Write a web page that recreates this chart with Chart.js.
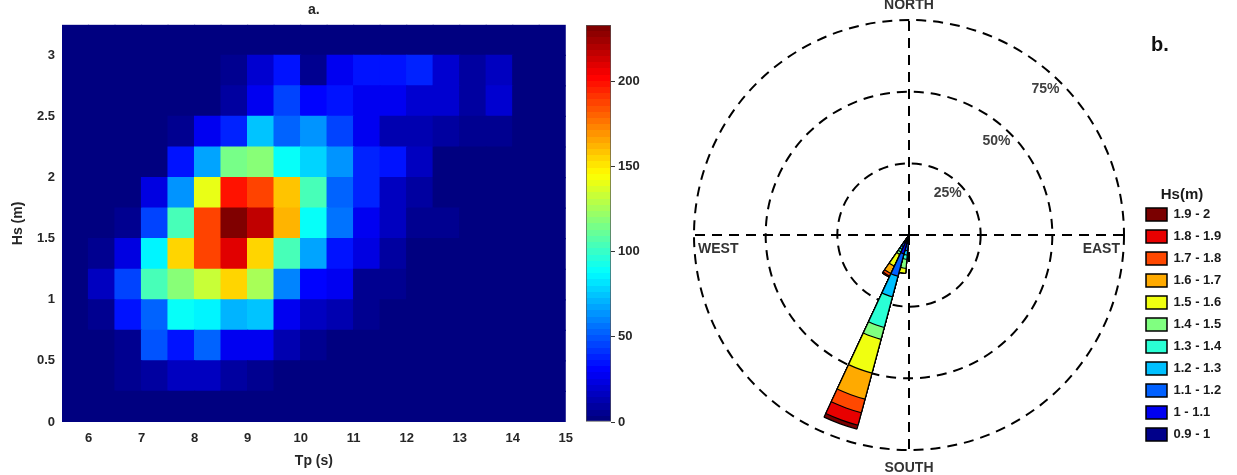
<!DOCTYPE html>
<html>
<head>
<meta charset="utf-8">
<script src="https://cdn.jsdelivr.net/npm/chart.js@4.4.1/dist/chart.umd.min.js"></script>
<style>
  html, body { margin: 0; padding: 0; background: #fff; }
  body { width: 1237px; height: 475px; position: relative; overflow: hidden; }
  .box { position: absolute; top: 0; height: 475px; }
  #heatBox { left: 0; width: 582px; }
  #barBox { left: 575px; width: 65px; }
  #roseBox { left: 640px; width: 597px; }
</style>
</head>
<body>
<div class="box" id="heatBox"><canvas id="heatChart"></canvas></div>
<div class="box" id="barBox"><canvas id="colorbarChart"></canvas></div>
<div class="box" id="roseBox"><canvas id="roseChart"></canvas></div>
<script>
// ---- panel a: Tp / Hs occurrence counts ----
const tpEdges = [5.5, 6, 6.5, 7, 7.5, 8, 8.5, 9, 9.5, 10, 10.5, 11, 11.5, 12, 12.5, 13, 13.5, 14, 14.5, 15];
const hsEdges = [0, 0.25, 0.5, 0.75, 1, 1.25, 1.5, 1.75, 2, 2.25, 2.5, 2.75, 3, 3.25];
// one row per Hs class (bottom to top), one value per Tp class
const counts = [
  [0, 0, 0, 0, 0, 0, 0, 0, 0, 0, 0, 0, 0, 0, 0, 0, 0, 0, 0],            // 0 - 0.25
  [1, 1, 4, 9, 16, 16, 9, 6, 2, 1, 0, 0, 0, 0, 0, 0, 0, 0, 0],          // 0.25 - 0.5
  [1, 1, 5, 49, 36, 51, 26, 26, 14, 5, 1, 0, 0, 0, 0, 0, 0, 0, 0],      // 0.5 - 0.75
  [2, 5, 33, 53, 91, 87, 71, 73, 26, 16, 12, 7, 1, 0, 0, 0, 0, 0, 0],   // 0.75 - 1
  [3, 16, 44, 102, 118, 133, 153, 124, 60, 31, 26, 7, 6, 1, 0, 0, 0, 0, 0],
  [2, 4, 24, 87, 155, 189, 208, 155, 105, 66, 36, 22, 9, 2, 1, 0, 0, 0, 0],
  [1, 2, 4, 44, 105, 189, 233, 215, 162, 91, 58, 29, 18, 7, 7, 2, 1, 0, 0],
  [0, 0, 0, 22, 62, 140, 197, 189, 157, 102, 53, 40, 18, 9, 2, 1, 1, 0, 0],
  [0, 0, 0, 0, 33, 69, 113, 120, 91, 80, 62, 40, 36, 17, 2, 2, 1, 1, 0],
  [0, 0, 0, 0, 5, 27, 40, 75, 53, 65, 47, 27, 14, 12, 9, 7, 4, 1, 0],
  [0, 0, 0, 0, 0, 3, 10, 29, 46, 32, 36, 27, 27, 19, 19, 10, 21, 2, 1],
  [0, 0, 0, 0, 0, 0, 7, 19, 36, 4, 27, 36, 36, 40, 21, 10, 16, 3, 2],   // 2.75 - 3
  [0, 0, 0, 0, 0, 0, 0, 0, 0, 0, 0, 0, 0, 0, 0, 0, 0, 0, 0]             // 3 - 3.25
];
const cmax = 233;
const colorbarTicks = [0, 50, 100, 150, 200];

// ---- panel b: wave rose, % of records per Hs class ----
const hsClasses = ['0.9 - 1', '1 - 1.1', '1.1 - 1.2', '1.2 - 1.3', '1.3 - 1.4', '1.4 - 1.5',
                   '1.5 - 1.6', '1.6 - 1.7', '1.7 - 1.8', '1.8 - 1.9', '1.9 - 2'];
const classColors = ['#00008a', '#0000f0', '#0060ff', '#00c0ff', '#2affd5', '#80ff80',
                     '#f0ff10', '#ffaa00', '#ff4800', '#e80000', '#7a0000'];
const sectorWidth = 10;
const roseDirs = [190, 200, 210];
const freq190 = [1.5, 1.5, 2.5, 1.5, 1.5, 3.2, 1.7, 0, 0, 0, 0];
const freq200 = [2.5, 4.3, 8.1, 7.4, 11.1, 4.3, 12.2, 9.4, 4.9, 4.5, 1.4];
const freq210 = [1.5, 1.5, 1.5, 1, 1, 1, 4.5, 2.8, 1, 0.4, 0];
const ringTicks = [25, 50, 75];
const compass = ['NORTH', 'EAST', 'SOUTH', 'WEST'];

Chart.defaults.font.family = '"Liberation Sans", Arial, Helvetica, sans-serif';
Chart.defaults.color = '#262626';
Chart.defaults.animation = false;

// matlab style jet, 64 levels
function jet(t) {
  const idx = Math.max(0, Math.min(63, Math.floor(t * 64)));
  const u = idx / 63;
  const ch = k => Math.round(255 * Math.max(0, Math.min(1, 1.5 - Math.abs(4 * u - k))));
  return 'rgb(' + ch(3) + ',' + ch(2) + ',' + ch(1) + ')';
}

const boldFont = {size: 13, weight: 'bold'};

// Heatmap as floating bars, one dataset per Hs row
new Chart(document.getElementById('heatChart'), {
  type: 'bar',
  data: {
    datasets: counts.map((row, r) => ({
      label: hsEdges[r] + ' - ' + hsEdges[r + 1],
      data: row.map((v, c) => ({x: (tpEdges[c] + tpEdges[c + 1]) / 2, y: [hsEdges[r], hsEdges[r + 1]]})),
      backgroundColor: row.map(v => jet(v / cmax)),
      borderWidth: 0,
      inflateAmount: 0.6,
      grouped: false,
      barPercentage: 1,
      categoryPercentage: 1
    }))
  },
  options: {
    responsive: true,
    maintainAspectRatio: false,
    events: [],
    layout: {padding: {left: 0, right: 2.5, top: 0, bottom: 0}},
    plugins: {
      legend: {display: false},
      tooltip: {enabled: false},
      title: {display: true, text: 'a.', fullSize: false, color: '#222', font: {size: 14, weight: 'bold'}, padding: {top: 2, bottom: 6}}
    },
    scales: {
      x: {
        type: 'linear', min: tpEdges[0], max: tpEdges[tpEdges.length - 1], offset: false,
        grid: {display: false, drawTicks: false}, border: {display: false},
        ticks: {stepSize: 1, includeBounds: false, padding: 9, font: boldFont},
        title: {display: true, text: 'Tp (s)', font: {size: 14, weight: 'bold'}, padding: {top: 0, bottom: 5}},
        afterFit: s => { s.height = 53; }
      },
      y: {
        type: 'linear', min: hsEdges[0], max: hsEdges[hsEdges.length - 1],
        grid: {display: false, drawTicks: false}, border: {display: false},
        ticks: {stepSize: 0.5, includeBounds: false, padding: 7, font: boldFont,
                callback: v => String(+v.toFixed(2))},
        title: {display: true, text: 'Hs (m)', font: {size: 14, weight: 'bold'}, padding: {top: 10, bottom: 0}},
        afterFit: s => { s.width = 62; }
      }
    }
  }
});

// Colorbar
function colorbarFill(c) {
  const chart = c.chart;
  if (!chart.chartArea) return 'rgba(0,0,0,0)';
  const y0 = chart.scales.y.getPixelForValue(0);
  const y1 = chart.scales.y.getPixelForValue(cmax);
  const g = chart.ctx.createLinearGradient(0, y0, 0, y1);
  for (let i = 0; i < 64; i++) {
    const col = jet((i + 0.5) / 64);
    g.addColorStop(i / 64, col);
    g.addColorStop((i + 1) / 64, col);
  }
  return g;
}

new Chart(document.getElementById('colorbarChart'), {
  type: 'bar',
  data: {
    labels: [''],
    datasets: [{
      data: [[0, cmax]],
      backgroundColor: colorbarFill,
      borderColor: '#555',
      borderWidth: 1,
      borderSkipped: false,
      barPercentage: 1,
      categoryPercentage: 1
    }]
  },
  options: {
    responsive: true,
    maintainAspectRatio: false,
    events: [],
    layout: {padding: {left: 11, right: 0, top: 25, bottom: 53}},
    plugins: {legend: {display: false}, tooltip: {enabled: false}},
    scales: {
      x: {display: false},
      y: {
        position: 'right', min: 0, max: cmax,
        grid: {drawOnChartArea: false, tickLength: 4, color: '#333'},
        border: {display: false},
        ticks: {stepSize: 50, includeBounds: false, padding: 3, font: boldFont,
                callback: v => colorbarTicks.includes(v) ? String(v) : ''},
        afterFit: s => { s.width = 29; }
      }
    }
  }
});

// Wave rose: cumulative classes overlaid, smallest class drawn on top
const sectorLabels = [];
for (let d = 0; d < 360; d += sectorWidth) sectorLabels.push(String(d));
const freqByDir = {190: freq190, 200: freq200, 210: freq210};
const roseDatasets = hsClasses.map((name, k) => ({
  label: name,
  data: sectorLabels.map(d => {
    const f = freqByDir[+d];
    if (!f) return 0;
    let sum = 0;
    for (let i = 0; i <= k; i++) sum += f[i];
    return sum;
  }),
  backgroundColor: classColors[k],
  borderColor: '#000',
  borderWidth: c => (c.raw > 0 ? 1.2 : 0)
}));

const roseDecor = {
  id: 'roseDecor',
  beforeDatasetsDraw(chart) {
    const s = chart.scales.r, ctx = chart.ctx;
    const R = s.getDistanceFromCenterForValue(ringTicks[ringTicks.length - 1]);
    ctx.save();
    ctx.strokeStyle = '#000';
    ctx.lineWidth = 2;
    ctx.setLineDash([10, 7]);
    [[0, -1], [1, 0], [0, 1], [-1, 0]].forEach(([dx, dy]) => {
      ctx.beginPath();
      ctx.moveTo(s.xCenter, s.yCenter);
      ctx.lineTo(s.xCenter + dx * R, s.yCenter + dy * R);
      ctx.stroke();
    });
    ctx.restore();
  },
  afterDraw(chart) {
    const s = chart.scales.r, ctx = chart.ctx;
    const cx = s.xCenter, cy = s.yCenter;
    const R = s.getDistanceFromCenterForValue(ringTicks[ringTicks.length - 1]);
    ctx.save();
    ctx.fillStyle = '#333';
    ctx.font = 'bold 14px "Liberation Sans", Arial, sans-serif';
    ctx.textBaseline = 'middle';
    ctx.textAlign = 'center';
    ctx.fillText(compass[0], cx, cy - R - 15);
    ctx.fillText(compass[2], cx, cy + R + 18);
    ctx.textAlign = 'right';
    ctx.fillText(compass[1], cx + R - 4, cy + 14);
    ctx.textAlign = 'left';
    ctx.fillText(compass[3], cx - R + 4, cy + 14);
    // ring labels
    ctx.textAlign = 'center';
    ctx.fillStyle = '#404040';
    const a = 43 * Math.PI / 180;
    ringTicks.forEach(v => {
      const d = s.getDistanceFromCenterForValue(v) - 15;
      ctx.fillText(v + '%', cx + d * Math.sin(a), cy - d * Math.cos(a));
    });
    // panel letter
    ctx.fillStyle = '#111';
    ctx.font = 'bold 20px "Liberation Sans", Arial, sans-serif';
    ctx.fillText('b.', 520, 45);
    ctx.restore();
  }
};

new Chart(document.getElementById('roseChart'), {
  type: 'polarArea',
  data: {labels: sectorLabels, datasets: roseDatasets},
  options: {
    responsive: true,
    maintainAspectRatio: false,
    events: [],
    layout: {padding: {left: 41, right: 10, top: 20, bottom: 25}},
    plugins: {
      tooltip: {enabled: false},
      legend: {
        position: 'right',
        align: 'end',
        reverse: true,
        maxWidth: 90,
        title: {display: true, text: 'Hs(m)', color: '#1a1a1a', font: {size: 15, weight: 'bold', lineHeight: 0.8}, padding: 0},
        labels: {
          boxWidth: 21,
          boxHeight: 13,
          padding: 9,
          color: '#1a1a1a',
          font: boldFont,
          generateLabels: chart => chart.data.datasets.map((ds, i) => ({
            text: ds.label,
            fillStyle: ds.backgroundColor,
            strokeStyle: '#000',
            lineWidth: 1.5,
            hidden: false,
            datasetIndex: i,
            fontColor: '#1a1a1a'
          }))
        }
      }
    },
    scales: {
      r: {
        min: 0, max: 75, startAngle: -sectorWidth / 2,
        ticks: {display: false, stepSize: 25},
        grid: {color: '#000', lineWidth: 2, circular: true, borderDash: [10, 7]},
        border: {dash: [10, 7]},
        angleLines: {display: false},
        pointLabels: {display: false}
      }
    }
  },
  plugins: [roseDecor]
});
</script>
</body>
</html>
